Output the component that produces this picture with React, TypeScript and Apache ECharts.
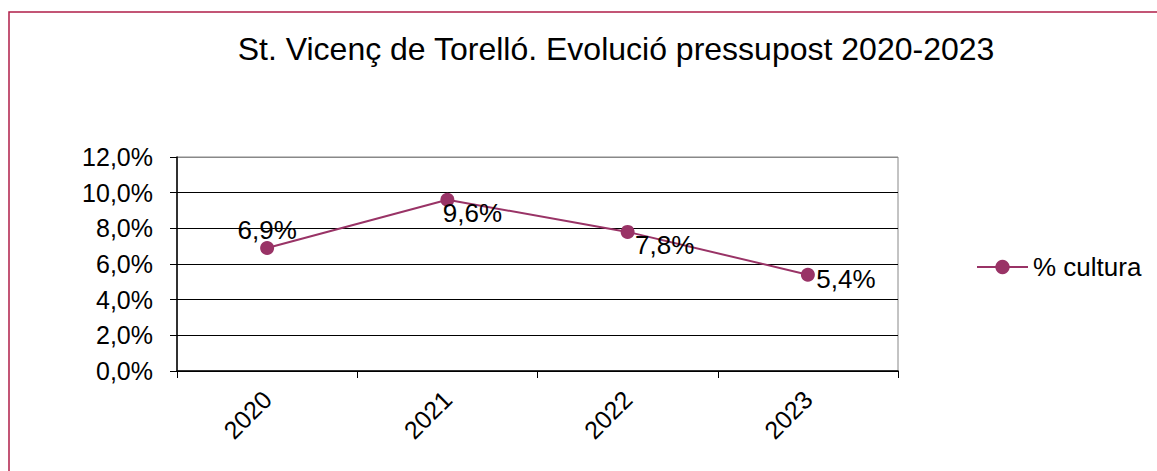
import React, { useEffect, useRef } from "react";
import * as echarts from "echarts";

const title = "St. Vicenç de Torelló. Evolució pressupost 2020-2023";
const categories = ["2020", "2021", "2022", "2023"];
const values = [6.9, 9.6, 7.8, 5.4];
const seriesName = "% cultura";
const labelOffsets: [number, number][] = [
  [0, -18],
  [25, 13],
  [37, 13],
  [38, 4],
];

const FONT = "'Liberation Sans', Arial, sans-serif";
const fmt = (v: number) => v.toFixed(1).replace(".", ",") + "%";

export default function App() {
  const ref = useRef<HTMLDivElement>(null);
  useEffect(() => {
    if (!ref.current) return;
    const chart = echarts.init(ref.current, undefined, { renderer: "svg" });
    chart.setOption({
      animation: false,
      backgroundColor: "#ffffff",
      textStyle: { fontFamily: FONT },
      title: {
        text: title,
        left: 611,
        top: 28,
        textAlign: "center",
        textStyle: { fontFamily: FONT, fontSize: 32, fontWeight: "normal", color: "#000" },
      },
      graphic: [
        {
          type: "rect",
          shape: { x: 9, y: 12, width: 1300, height: 600 },
          style: { fill: "none", stroke: "#B01E48", lineWidth: 1.5 },
          silent: true,
        },
      ],
      legend: {
        left: 971,
        top: 249,
        itemWidth: 51,
        itemHeight: 18,
        itemGap: 10,
        textStyle: { fontFamily: FONT, fontSize: 26, color: "#000" },
        data: [seriesName],
      },
      grid: {
        left: 177,
        top: 157,
        width: 721,
        height: 214,
        show: true,
        borderColor: "#888",
        borderWidth: 1,
      },
      xAxis: {
        type: "category",
        data: categories,
        boundaryGap: true,
        axisLine: { lineStyle: { color: "#000", width: 1.5 } },
        axisTick: { show: true, length: 7, lineStyle: { color: "#000" } },
        axisLabel: {
          rotate: 45,
          margin: 24,
          fontFamily: FONT,
          fontSize: 25,
          color: "#000",
        },
      },
      yAxis: {
        type: "value",
        min: 0,
        max: 12,
        interval: 2,
        axisLine: { show: true, lineStyle: { color: "#000", width: 1.5 } },
        axisTick: { show: true, length: 7, lineStyle: { color: "#000" } },
        axisLabel: {
          margin: 24,
          fontFamily: FONT,
          fontSize: 25,
          color: "#000",
          formatter: (v: number) => fmt(v),
        },
        splitLine: {
          show: true,
          lineStyle: { color: ["#000", "#000", "#000", "#000", "#000", "#000", "#888"], width: 1 },
        },
      },
      series: [
        {
          name: seriesName,
          type: "line",
          data: values.map((v, i) => ({
            value: v,
            label: { offset: labelOffsets[i] },
          })),
          symbol: "circle",
          symbolSize: 14,
          lineStyle: { color: "#993366", width: 2 },
          itemStyle: { color: "#993366" },
          label: {
            show: true,
            position: "inside",
            fontFamily: FONT,
            fontSize: 26,
            color: "#000",
            formatter: (p: any) => fmt(p.value),
          },
        },
      ],
    });
    return () => chart.dispose();
  }, []);
  return (
    <div
      ref={ref}
      style={{ position: "fixed", left: 0, top: 0, width: 1157, height: 471 }}
    />
  );
}
